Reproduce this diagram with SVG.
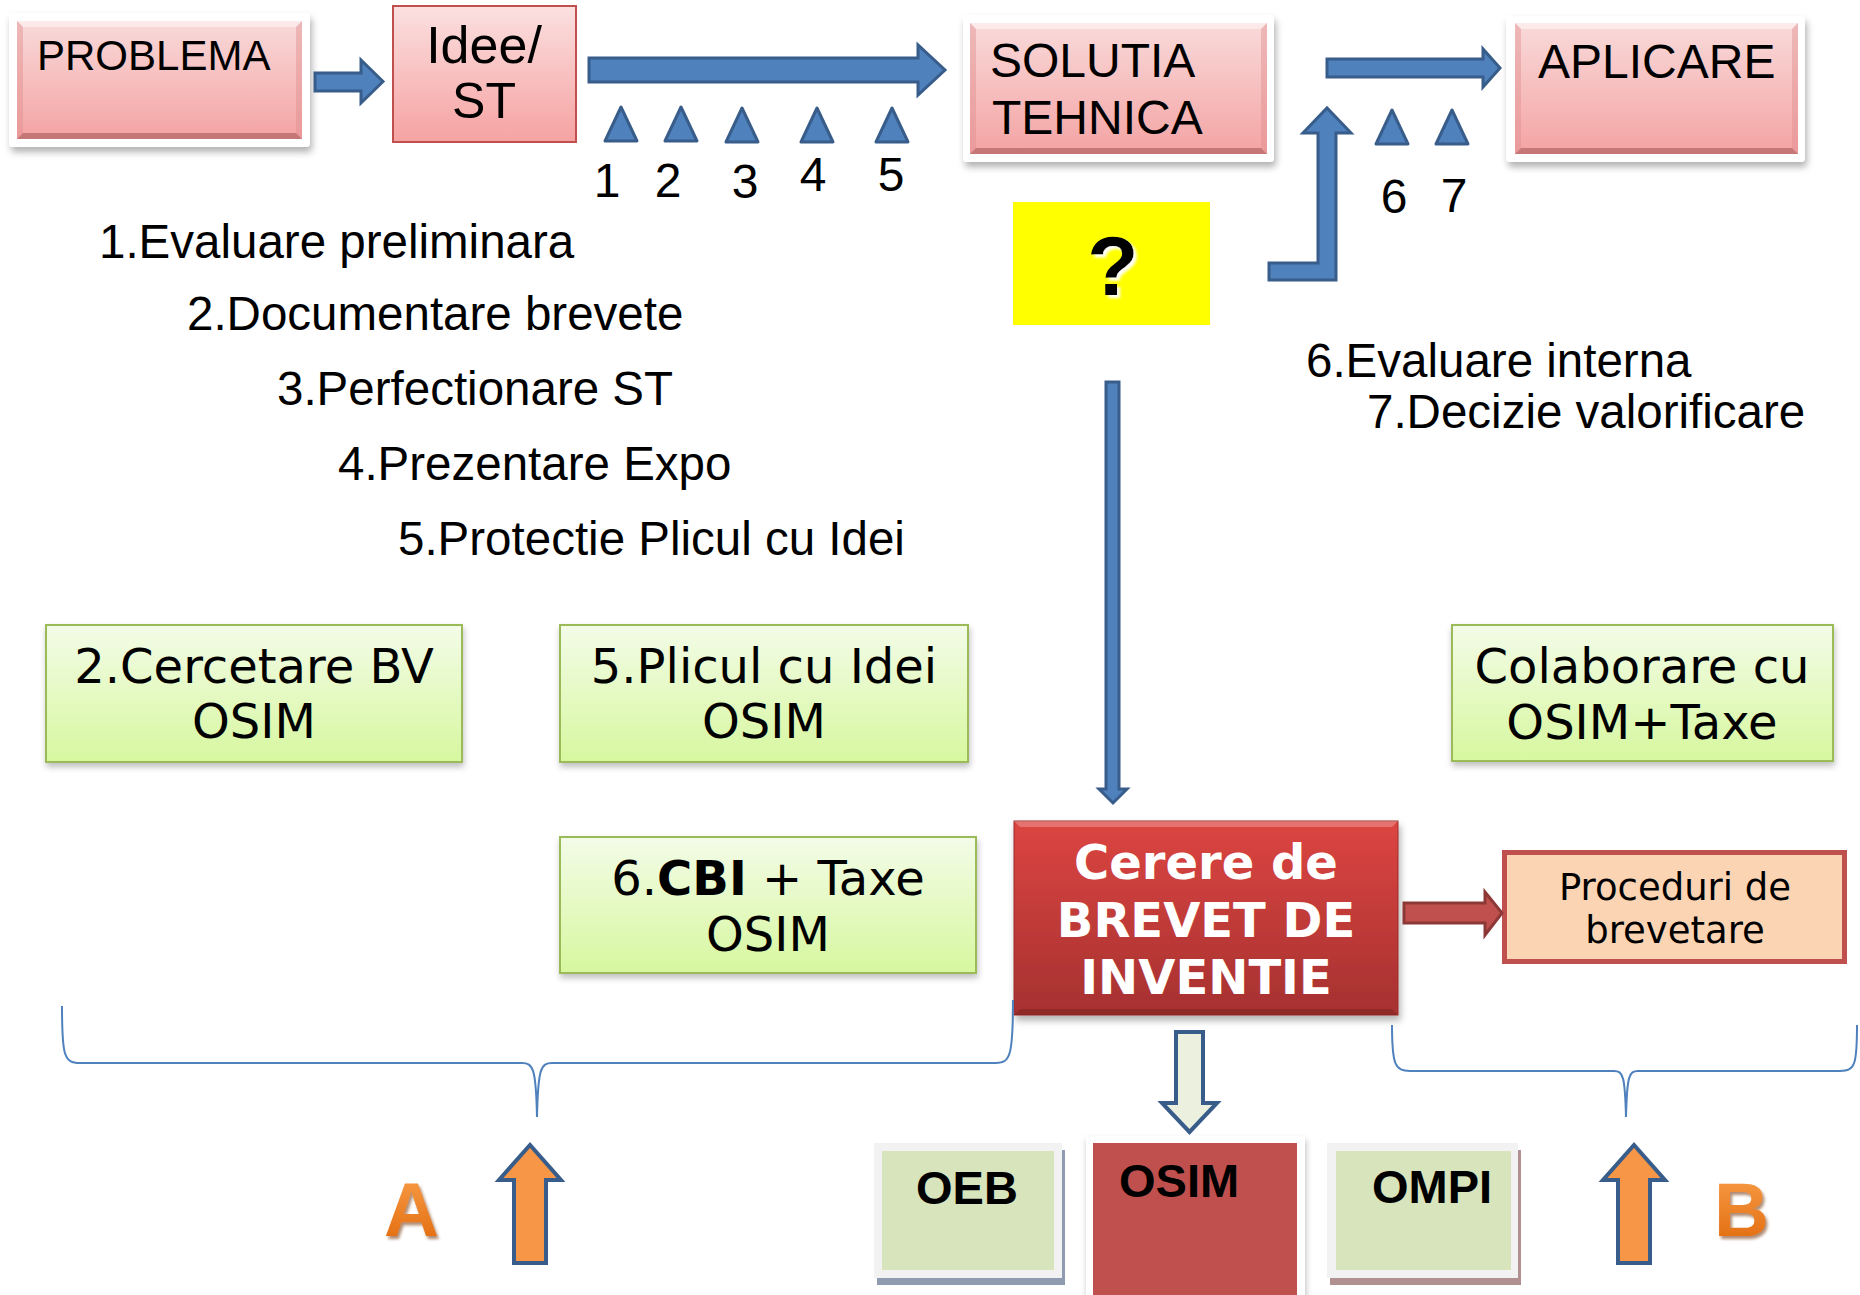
<svg xmlns="http://www.w3.org/2000/svg" width="1860" height="1295" viewBox="0 0 1860 1295">
<defs>
  <linearGradient id="pinkGrad" x1="0" y1="0" x2="0" y2="1">
    <stop offset="0" stop-color="#f9dada"/>
    <stop offset="1" stop-color="#f4a3a3"/>
  </linearGradient>
  <linearGradient id="ideeGrad" x1="0" y1="0" x2="0" y2="1">
    <stop offset="0" stop-color="#fbe0e0"/>
    <stop offset="1" stop-color="#f6a2a2"/>
  </linearGradient>
  <linearGradient id="greenGrad" x1="0" y1="0" x2="0" y2="1">
    <stop offset="0" stop-color="#f3fce8"/>
    <stop offset="1" stop-color="#d7f79f"/>
  </linearGradient>
  <linearGradient id="redGrad" x1="0" y1="0" x2="0" y2="1">
    <stop offset="0" stop-color="#dc4541"/>
    <stop offset="1" stop-color="#a63130"/>
  </linearGradient>
  <linearGradient id="orangeGrad" x1="0" y1="0" x2="0" y2="1">
    <stop offset="0" stop-color="#f9a04a"/>
    <stop offset="1" stop-color="#e0670a"/>
  </linearGradient>
  <filter id="shadow" x="-10%" y="-10%" width="125%" height="135%">
    <feDropShadow dx="2" dy="5" stdDeviation="3.5" flood-color="#000" flood-opacity="0.3"/>
  </filter>
  <filter id="softShadow" x="-10%" y="-10%" width="125%" height="135%">
    <feDropShadow dx="1" dy="4" stdDeviation="3" flood-color="#000" flood-opacity="0.25"/>
  </filter>
  <filter id="whiteGlow" x="-30%" y="-30%" width="160%" height="160%">
    <feDropShadow dx="3" dy="3" stdDeviation="1.5" flood-color="#ffffff" flood-opacity="1"/>
  </filter>
  <filter id="letterShadow" x="-20%" y="-20%" width="150%" height="150%">
    <feDropShadow dx="2" dy="3" stdDeviation="1.5" flood-color="#7a3a10" flood-opacity="0.6"/>
  </filter>
</defs>
<style>
  .arial { font-family: "Liberation Sans", Arial, sans-serif; }
  .verd { font-family: "DejaVu Sans", Verdana, sans-serif; }
  .frame { fill: #ffffff; }
  .pink { fill: url(#pinkGrad); }
  .bevDark { fill: #b56868; opacity: 0.75; }
  .bevLight { fill: #ffffff; opacity: 0.45; }
  .bevSide { fill: #e08e8e; opacity: 0.45; }
  .green { fill: url(#greenGrad); stroke: #9bbb59; stroke-width: 2; }
  .blueArrow { fill: #4f81bd; stroke: #385d8a; stroke-width: 3; stroke-linejoin: miter; }
  .tri { fill: #4f81bd; stroke: #385d8a; stroke-width: 3; stroke-linejoin: round; }
  .orangeArrow { fill: #f79646; stroke: #385d8a; stroke-width: 4; }
  .brace { fill: none; stroke: #4f81bd; stroke-width: 2; }
  .t48 { font-size: 48px; fill: #000; }
  .list { font-size: 47.5px; fill: #000; }
  .gtext { font-size: 48px; fill: #000; text-anchor: middle; }
  .office { font-size: 47px; font-weight: bold; fill: #000; }
</style>

<rect width="1860" height="1295" fill="#ffffff"/>

<!-- PROBLEMA -->
<g id="problema">
  <rect class="frame" x="9" y="13" width="301" height="134" rx="4" filter="url(#shadow)"/>
  <rect class="pink" x="17" y="21" width="285" height="118"/>
  <polygon class="bevLight" points="17,21 302,21 296,27 23,27"/>
  <polygon class="bevSide" points="17,21 23,27 23,133 17,139"/>
  <polygon class="bevSide" points="302,21 296,27 296,133 302,139"/>
  <polygon class="bevDark" points="17,139 302,139 296,133 23,133"/>
  <text class="arial" x="37" y="70" font-size="42">PROBLEMA</text>
</g>

<!-- Idee/ST -->
<g id="idee">
  <rect x="393" y="6" width="183" height="136" fill="url(#ideeGrad)" stroke="#c0504d" stroke-width="2"/>
  <text class="arial" x="484" y="63" font-size="52" text-anchor="middle">Idee/</text>
  <text class="arial" x="484" y="118" font-size="50" text-anchor="middle">ST</text>
</g>

<!-- SOLUTIA TEHNICA -->
<g id="solutia">
  <rect class="frame" x="963" y="15" width="311" height="147" rx="4" filter="url(#shadow)"/>
  <rect class="pink" x="970" y="23" width="297" height="131"/>
  <polygon class="bevLight" points="970,23 1267,23 1261,29 976,29"/>
  <polygon class="bevSide" points="970,23 976,29 976,148 970,154"/>
  <polygon class="bevSide" points="1267,23 1261,29 1261,148 1267,154"/>
  <polygon class="bevDark" points="970,154 1267,154 1261,148 976,148"/>
  <text class="arial t48" x="990" y="77">SOLUTIA</text>
  <text class="arial t48" x="992" y="134">TEHNICA</text>
</g>

<!-- APLICARE -->
<g id="aplicare">
  <rect class="frame" x="1506" y="16" width="299" height="146" rx="4" filter="url(#shadow)"/>
  <rect class="pink" x="1515" y="23" width="283" height="131"/>
  <polygon class="bevLight" points="1515,23 1798,23 1792,29 1521,29"/>
  <polygon class="bevSide" points="1515,23 1521,29 1521,148 1515,154"/>
  <polygon class="bevSide" points="1798,23 1792,29 1792,148 1798,154"/>
  <polygon class="bevDark" points="1515,154 1798,154 1792,148 1521,148"/>
  <text class="arial t48" x="1538" y="78">APLICARE</text>
</g>

<!-- step markers -->
<g id="markers">
  <polygon class="tri" points="621,107 637,141 605,141"/>
  <polygon class="tri" points="681,107 697,141 665,141"/>
  <polygon class="tri" points="742,108 758,142 726,142"/>
  <polygon class="tri" points="817,108 833,142 801,142"/>
  <polygon class="tri" points="892,108 908,142 876,142"/>
  <polygon class="tri" points="1392,110 1408,144 1376,144"/>
  <polygon class="tri" points="1452,110 1468,144 1436,144"/>
  <g class="arial t48" text-anchor="middle">
    <text x="607" y="197">1</text>
    <text x="668" y="197">2</text>
    <text x="745" y="198">3</text>
    <text x="813" y="191">4</text>
    <text x="891" y="191">5</text>
    <text x="1394" y="213">6</text>
    <text x="1454" y="212">7</text>
  </g>
</g>

<!-- Question box -->
<g id="intrebare">
  <rect x="1013" y="202" width="197" height="123" fill="#ffff00"/>
  <text class="arial" x="1113" y="295" font-size="84" font-weight="bold" text-anchor="middle" filter="url(#whiteGlow)">?</text>
</g>

<!-- Step lists -->
<g id="lista-pasi" class="arial list">
  <text x="99" y="258">1.Evaluare preliminara</text>
  <text x="187" y="330">2.Documentare brevete</text>
  <text x="277" y="405">3.Perfectionare ST</text>
  <text x="338" y="480">4.Prezentare Expo</text>
  <text x="398" y="555">5.Protectie Plicul cu Idei</text>
  <text x="1306" y="377">6.Evaluare interna</text>
  <text x="1367" y="428">7.Decizie valorificare</text>
</g>

<!-- Green boxes -->
<g id="cercetare">
  <rect class="green" x="46" y="625" width="416" height="137" filter="url(#softShadow)"/>
  <text class="verd gtext" x="254" y="683">2.Cercetare BV</text>
  <text class="verd gtext" x="254" y="738">OSIM</text>
</g>
<g id="plicul">
  <rect class="green" x="560" y="625" width="408" height="137" filter="url(#softShadow)"/>
  <text class="verd gtext" x="764" y="683">5.Plicul cu Idei</text>
  <text class="verd gtext" x="764" y="738">OSIM</text>
</g>
<g id="cbi">
  <rect class="green" x="560" y="837" width="416" height="136" filter="url(#softShadow)"/>
  <text class="verd gtext" x="768" y="895">6.<tspan font-weight="bold">CBI</tspan> + Taxe</text>
  <text class="verd gtext" x="768" y="951">OSIM</text>
</g>
<g id="colaborare">
  <rect class="green" x="1452" y="625" width="381" height="136" filter="url(#softShadow)"/>
  <text class="verd gtext" x="1642" y="683">Colaborare cu</text>
  <text class="verd gtext" x="1642" y="739">OSIM+Taxe</text>
</g>

<!-- Cerere de brevet -->
<g id="cerere">
  <rect x="1014" y="821" width="384" height="194" fill="url(#redGrad)" stroke="#9b2d2a" stroke-width="1" filter="url(#shadow)"/>
  <polygon points="1014,821 1398,821 1392,827 1020,827" fill="#ffffff" opacity="0.25"/>
  <polygon points="1014,1015 1398,1015 1392,1009 1020,1009" fill="#6e1e1c" opacity="0.4"/>
  <g class="verd" font-size="48" font-weight="bold" fill="#ffffff" text-anchor="middle">
    <text x="1206" y="879">Cerere de</text>
    <text x="1206" y="937">BREVET DE</text>
    <text x="1206" y="994">INVENTIE</text>
  </g>
</g>

<!-- Proceduri -->
<g id="proceduri">
  <rect x="1504.5" y="852.5" width="340" height="109" fill="#fbd4b4" stroke="#c0504d" stroke-width="5"/>
  <text class="verd" x="1675" y="900" font-size="37" text-anchor="middle">Proceduri de</text>
  <text class="verd" x="1675" y="943" font-size="37" text-anchor="middle">brevetare</text>
</g>

<!-- Offices -->
<g id="oeb">
  <rect x="877" y="1150" width="188" height="135" fill="#8e9bb0"/>
  <rect x="874" y="1143" width="188" height="135" fill="#f2f2f2"/>
  <rect x="882" y="1151" width="172" height="119" fill="#d8e4bc"/>
  <text class="arial office" x="967" y="1204" text-anchor="middle">OEB</text>
</g>
<g id="osim">
  <rect x="1086" y="1136" width="219" height="170" fill="#ffffff" filter="url(#softShadow)"/>
  <rect x="1093" y="1143" width="204" height="160" fill="#c0504d"/>
  <text class="arial office" x="1119" y="1197">OSIM</text>
</g>
<g id="ompi">
  <rect x="1330" y="1150" width="191" height="135" fill="#b09090"/>
  <rect x="1327" y="1143" width="191" height="135" fill="#f2f2f2"/>
  <rect x="1336" y="1151" width="175" height="119" fill="#d8e4bc"/>
  <text class="arial office" x="1372" y="1203">OMPI</text>
</g>

<!-- A / B labels -->
<g id="label-a">
  <text class="arial" x="384" y="1236" font-size="76" font-weight="bold" fill="url(#orangeGrad)" filter="url(#letterShadow)">A</text>
</g>
<g id="label-b">
  <text class="arial" x="1714" y="1236" font-size="76" font-weight="bold" fill="url(#orangeGrad)" filter="url(#letterShadow)">B</text>
</g>

<!-- Braces -->
<g id="acolade">
  <path class="brace" d="M62,1006 C62,1056 64,1063 80,1063 L522,1063 C533,1063 536,1068 537,1117 C538,1068 541,1063 552,1063 L996,1063 C1010,1063 1013,1056 1013,1000"/>
  <path class="brace" d="M1392,1025 C1392,1065 1395,1071 1410,1071 L1614,1071 C1623,1071 1625,1076 1626,1117 C1627,1076 1629,1071 1638,1071 L1840,1071 C1855,1071 1857,1065 1857,1025"/>
</g>

<!-- Connectors -->
<g id="connectors">
  <polygon class="blueArrow" points="315,73 361,73 361,60 383,81.5 361,103 361,91 315,91"/>
  <polygon class="blueArrow" points="589,58 918,58 918,45 945,70 918,95 918,82 589,82"/>
  <polygon class="blueArrow" points="1327,59 1483,59 1483,49 1500,68 1483,87 1483,77 1327,77"/>
  <polygon class="blueArrow" points="1269,263 1318,263 1318,133 1303,133 1327,108 1351,133 1336,133 1336,280 1269,280"/>
  <polygon class="blueArrow" points="1106,382 1119,382 1119,789 1127,789 1113,803 1099,789 1106,789"/>
  <polygon points="1404,903 1485,903 1485,892 1502,913 1485,935 1485,923 1404,923" fill="#c0504d" stroke="#8c3836" stroke-width="3"/>
  <polygon points="1176,1032 1203,1032 1203,1103 1217,1103 1189.5,1132 1162,1103 1176,1103" fill="#ebf1de" stroke="#385d8a" stroke-width="4"/>
  <polygon class="orangeArrow" points="514,1263 514,1180 499,1180 530,1145 561,1180 546,1180 546,1263"/>
  <polygon class="orangeArrow" points="1618,1263 1618,1180 1603,1180 1634,1145 1665,1180 1650,1180 1650,1263"/>
</g>
</svg>
